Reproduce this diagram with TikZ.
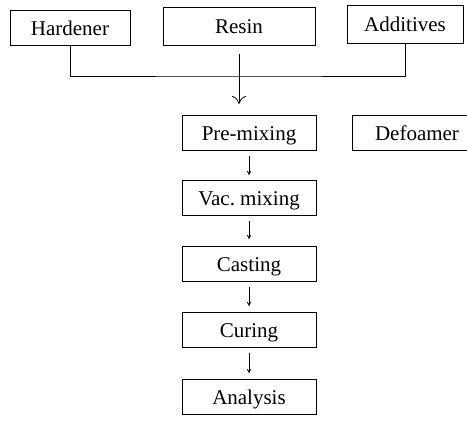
\documentclass[tikz,border=0pt]{standalone}
\usepackage{fontspec}
\setmainfont{Liberation Serif}
\usetikzlibrary{arrows.meta}
\tikzset{
  stepbox/.style={draw,line width=0.8pt,minimum height=35pt,inner sep=0pt,text height=15pt,text depth=0pt,font=\fontsize{21}{24}\selectfont},
  flow/.style={line width=0.8pt,-{To[length=4pt,width=4pt]}},
}
\begin{document}
\begin{tikzpicture}[x=1pt,y=-1pt]
                \useasboundingbox (0,0) rectangle (467,423);
                % raw materials
                \node[stepbox,minimum width=120pt] (hardener) at (70,28) {Hardener};
                \node[stepbox,minimum width=152pt,minimum height=38pt] (resin) at (239,26) {Resin};
                \node[stepbox,minimum width=116pt,minimum height=38pt] (additives) at (405,24) {Additives};
                \coordinate (join) at (239,76);
                \draw[line width=0.8pt] (hardener.south) |- (join) -| (additives.south);
                \draw[line width=0.8pt,-{To[length=8pt,width=14pt]}] ([yshift=-9pt]resin.south) -- (239,104);
                % process
                \node[stepbox,minimum width=134pt] (premix) at (249,133) {Pre-mixing};
                \node[stepbox,minimum width=130pt] (defoamer) at (417,133) {Defoamer};
                \node[stepbox,minimum width=134pt] (vacmix) at (249,198) {Vac.\ mixing};
                \node[stepbox,minimum width=134pt] (casting) at (249,264) {Casting};
                \node[stepbox,minimum width=134pt] (curing) at (249,330) {Curing};
                \node[stepbox,minimum width=134pt] (analysis) at (249,397) {Analysis};
                \draw[flow] ([yshift=-5pt]premix.south) -- ([yshift=5pt]vacmix.north);
                \draw[flow] ([yshift=-5pt]vacmix.south) -- ([yshift=7pt]casting.north);
                \draw[flow] ([yshift=-5pt]casting.south) -- ([yshift=6pt]curing.north);
                \draw[flow] ([yshift=-5pt]curing.south) -- ([yshift=6pt]analysis.north);
            \end{tikzpicture}
\end{document}
